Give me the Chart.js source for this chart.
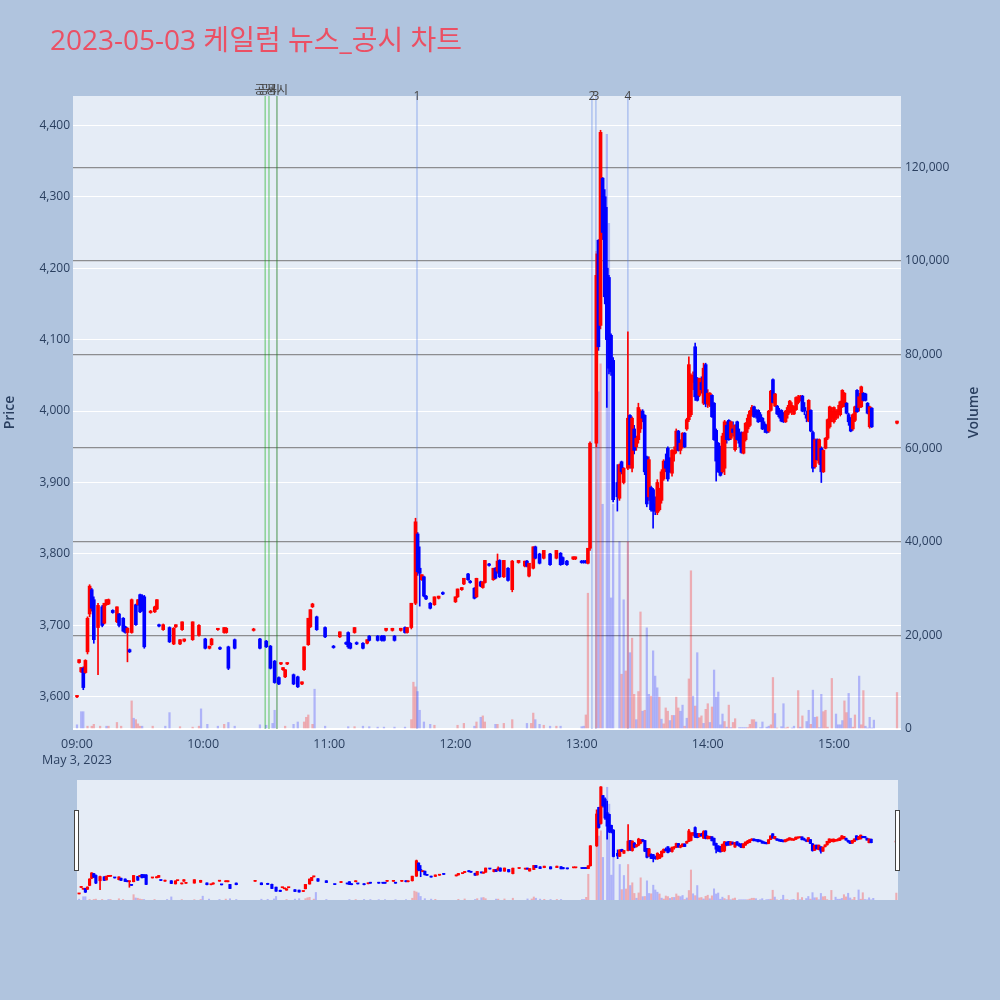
<!DOCTYPE html>
<html>
<head>
<meta charset="utf-8">
<script src="https://cdn.jsdelivr.net/npm/chart.js@4.4.0/dist/chart.umd.min.js"></script>
<style>
html, body { margin: 0; padding: 0; background: #b0c4de; }
#wrap { position: relative; width: 1000px; height: 1000px; }
#main { position: absolute; left: 0; top: 0; }
#slider { position: absolute; left: 77px; top: 780px; }
.handle { position: absolute; top: 810px; width: 3px; height: 59px; background: #fff; border: 1px solid #444; }
</style>
</head>
<body>
<div id="wrap">
  <canvas id="main" width="1000" height="1000"></canvas>
  <canvas id="slider" width="821" height="120"></canvas>
  <div class="handle" style="left:74px"></div>
  <div class="handle" style="left:895px"></div>
</div>
<script>
// minutes after 09:00
const candleMin = [
  0,1,2,3,4,5,6,7,8,10,
  12,13,14,15,17,19,20,22,23,24,
  25,26,28,29,30,31,32,35,37,38,
  39,41,44,46,47,49,50,51,55,58,
  61,63,64,67,68,70,71,72,75,84,
  87,90,92,94,96,97,98,99,100,103,
  105,107,108,110,111,112,114,118,
  122,125,128,129,130,132,133,136,138,139,
  143,145,146,147,150,151,154,156,157,159,
  161,162,163,164,165,166,168,170,172,174,
  180,
  181,183,184,186,187,189,190,192,193,194,
  196,198,199,200,201,203,205,207,210,213,
  214,215,217,218,220,222,225,228,230,231,
  233,236,237,240,241,242,
  243,244,247,248,249,250,251,252,253,254,
  255,257,258,259,260,262,263,264,265,266,
  267,268,269,270,271,272,273,274,275,276,
  277,278,279,280,281,282,283,284,285,286,
  287,288,289,290,291,292,293,294,295,296,
  297,298,299,300,301,302,
  303,304,305,306,307,308,309,310,311,312,
  313,314,315,316,317,318,319,320,321,322,
  323,324,325,326,327,328,329,330,331,332,
  333,334,335,336,337,338,339,340,341,342,
  343,344,345,346,347,348,349,350,351,352,
  353,354,355,356,357,358,359,360,361,362,
  363,364,365,366,367,368,369,370,371,372,
  373,374,375,376,377,378,390
];
const candleOpen = [
  3600,3648,3635,3640,3634,3663,3716,3750,3736,3697,
  3726,3703,3729,3730,3721,3705,3716,3710,3698,3690,
  3666,3690,3729,3729,3743,3741,3740,3718,3719,3723,
  3701,3694,3697,3674,3698,3674,3694,3678,3680,3686,
  3681,3668,3673,3694,3669,3690,3690,3670,3680,3693,
  3681,3678,3671,3650,3627,3646,3638,3628,3646,3631,
  3628,3618,3638,3673,3698,3726,3712,3697,
  3671,3684,3676,3690,3675,3690,3676,3675,3675,3685,
  3685,3685,3685,3693,3693,3685,3693,3697,3690,3697,
  3731,3828,3780,3764,3768,3741,3731,3729,3738,3746,
  3733,
  3740,3750,3758,3772,3762,3752,3740,3761,3753,3760,
  3786,3764,3780,3776,3791,3768,3780,3750,3788,3783,
  3790,3769,3780,3810,3800,3794,3800,3794,3801,3795,
  3790,3793,3793,3790,3790,3790,
  3787,3808,3955,4239,4120,4326,4300,4200,4187,4106,
  4071,3900,3878,3929,3900,3920,3994,3920,3975,3950,
  3960,3975,4000,3994,3936,3880,3893,3890,3870,3858,
  3862,3875,3905,3930,3948,3934,3913,3940,3945,3972,
  3945,3950,3969,3975,3988,3995,4040,4090,4046,4022,
  4040,4011,4065,4010,4008,4022,
  4011,3973,3955,3950,3915,3920,3980,3987,3962,3975,
  3946,3985,3965,3970,3941,3960,3975,3980,3995,4006,
  4000,4001,3995,3990,3982,3980,3972,4001,4044,4007,
  4007,4000,4001,3997,3985,3995,3998,4000,3996,4002,
  4012,4015,4021,4005,3995,3986,4001,3970,3922,3960,
  3927,3948,3915,3948,3962,3978,3990,3985,3990,3995,
  3995,4006,4008,4011,3995,3990,3975,3987,4029,4005,
  4006,4025,4024,4011,3978,4004,3983
];
const candleHigh = [
  3602,3652,3641,3642,3652,3712,3757,3752,3740,3731,
  3728,3731,3736,3737,3722,3726,3717,3711,3699,3697,
  3667,3737,3730,3736,3744,3743,3742,3721,3727,3736,
  3702,3702,3698,3697,3701,3680,3705,3681,3705,3701,
  3682,3671,3682,3696,3670,3697,3697,3671,3681,3696,
  3682,3679,3672,3651,3628,3648,3641,3638,3648,3632,
  3629,3621,3670,3710,3722,3731,3713,3698,
  3672,3691,3677,3691,3676,3697,3677,3676,3680,3686,
  3686,3686,3686,3696,3696,3686,3696,3698,3697,3731,
  3850,3830,3810,3771,3769,3742,3732,3740,3741,3747,
  3740,
  3751,3753,3766,3773,3763,3753,3766,3762,3761,3791,
  3787,3780,3781,3800,3792,3791,3781,3791,3791,3790,
  3791,3787,3810,3811,3801,3805,3801,3805,3802,3796,
  3791,3796,3796,3791,3791,3791,
  3808,3957,4220,4240,4393,4327,4310,4285,4190,4108,
  4075,3925,3926,3930,3921,4111,3995,3992,3980,3965,
  4011,4002,4002,3995,3937,3936,3895,3892,3880,3904,
  3892,3918,3932,3940,3950,3935,3946,3950,3975,3973,
  3960,3970,3970,3990,4076,4052,4055,4095,4047,4046,
  4048,4067,4067,4030,4026,4023,
  4012,3975,3956,3951,3969,3987,3985,3988,3986,3985,
  3981,3986,3975,3971,3971,3984,3995,4001,4008,4007,
  4002,4002,3998,3991,3985,3981,4001,4029,4045,4025,
  4008,4004,4002,3998,4001,4008,4015,4012,4007,4020,
  4022,4022,4022,4012,4000,4016,4002,3972,3961,3961,
  3961,3950,3946,3963,3989,4007,4005,4006,4002,4008,
  4014,4030,4026,4012,3997,3991,3996,4007,4030,4025,
  4035,4026,4025,4012,4007,4005,3986
];
const candleLow = [
  3599,3647,3634,3610,3633,3660,3712,3720,3675,3631,
  3698,3702,3728,3729,3717,3704,3698,3691,3689,3649,
  3662,3689,3700,3728,3718,3720,3668,3717,3718,3722,
  3698,3693,3676,3673,3697,3673,3693,3677,3679,3685,
  3667,3667,3672,3693,3666,3689,3689,3638,3667,3692,
  3667,3669,3639,3619,3617,3645,3637,3627,3645,3617,
  3613,3617,3637,3672,3697,3725,3693,3683,
  3668,3683,3673,3668,3667,3689,3673,3667,3674,3678,
  3678,3678,3678,3692,3692,3678,3692,3689,3689,3695,
  3729,3770,3727,3763,3740,3736,3723,3728,3737,3743,
  3732,
  3739,3749,3757,3763,3759,3737,3739,3754,3752,3759,
  3783,3763,3765,3773,3767,3767,3762,3747,3787,3782,
  3782,3768,3779,3793,3786,3793,3784,3793,3784,3785,
  3784,3792,3792,3787,3787,3787,
  3786,3805,3950,4085,4115,4240,4150,4005,4052,4050,
  3873,3860,3875,3912,3898,3918,3920,3915,3940,3945,
  3955,3970,3985,3911,3866,3875,3860,3836,3855,3855,
  3860,3871,3903,3915,3902,3914,3909,3930,3941,3944,
  3940,3948,3949,3973,3985,3992,4030,4015,4014,4020,
  4025,4009,4006,4005,4006,3991,
  3959,3902,3914,3909,3913,3911,3955,3959,3960,3965,
  3944,3959,3950,3941,3940,3958,3970,3978,3993,3991,
  3990,3984,3985,3974,3970,3969,3970,4000,4011,4006,
  3995,3990,3985,3984,3984,3990,3997,3995,3995,4001,
  4010,4014,3999,3995,3985,3985,3971,3915,3920,3931,
  3925,3900,3914,3947,3960,3976,3985,3983,3988,3990,
  3993,4005,4006,3996,3980,3971,3973,3985,3998,4000,
  4005,4014,4014,3996,3976,3977,3982
];
const candleClose = [
  3602,3652,3641,3613,3651,3710,3755,3724,3680,3728,
  3700,3731,3736,3736,3718,3726,3700,3692,3690,3696,
  3663,3736,3701,3736,3719,3722,3670,3720,3726,3736,
  3699,3701,3677,3696,3701,3680,3705,3681,3705,3700,
  3668,3671,3681,3696,3667,3697,3696,3640,3668,3695,
  3668,3670,3640,3620,3618,3648,3641,3638,3648,3618,
  3614,3621,3670,3710,3722,3730,3694,3684,
  3669,3691,3674,3670,3668,3697,3674,3668,3680,3679,
  3679,3679,3679,3696,3696,3679,3696,3690,3697,3731,
  3845,3775,3773,3771,3741,3737,3724,3740,3741,3744,
  3740,
  3751,3753,3766,3764,3760,3738,3766,3755,3761,3791,
  3784,3780,3766,3790,3768,3791,3763,3790,3791,3790,
  3783,3787,3810,3794,3787,3805,3785,3805,3785,3786,
  3785,3796,3796,3788,3788,3788,
  3808,3955,4190,4090,4390,4250,4160,4100,4060,4055,
  3876,3880,3925,3915,3920,3990,3925,3990,3945,3962,
  4005,4000,3990,3915,3870,3932,3862,3860,3860,3900,
  3890,3915,3930,3920,3905,3915,3945,3945,3972,3945,
  3955,3969,3950,3988,4065,4050,4050,4020,4015,4046,
  4030,4060,4010,4025,4025,3992,
  3960,3930,3915,3910,3965,3985,3960,3960,3985,3970,
  3980,3960,3955,3942,3970,3983,3990,4000,4005,3992,
  3995,3985,3990,3975,3975,3970,4000,4028,4012,4024,
  3996,3992,3986,3985,4000,4005,4014,4008,4006,4019,
  4020,4021,4000,4000,3990,4015,3972,3920,3960,3932,
  3960,3915,3945,3962,3988,4006,4000,4005,4000,4002,
  4013,4029,4025,3997,3985,3972,3995,4006,3999,4020,
  4034,4015,4015,3997,4006,3978,3986
];

// volume, thousands of shares; volUp 1 = rising minute
const volMin = [
  0,2,3,5,7,8,11,14,15,19,
  21,26,27,28,29,30,31,36,42,44,
  49,55,58,59,62,67,70,72,75,87,
  90,93,94,99,103,105,108,109,110,112,
  113,118,129,132,136,139,143,146,151,156,
  159,160,161,162,163,165,168,170,181,184,
  189,190,192,193,194,199,200,203,207,214,
  216,217,218,220,222,225,228,230,240,241,
  242,243,247,248,249,250,252,253,254,255,
  258,259,260,261,262,263,264,265,266,267,
  268,269,270,271,272,273,274,275,276,277,
  278,279,280,281,282,283,284,285,286,287,
  288,289,290,291,292,293,294,295,296,297,
  298,299,300,301,302,303,304,305,306,307,
  308,309,310,311,312,313,315,316,317,318,
  319,320,321,322,323,325,326,328,329,330,
  331,332,333,335,336,337,338,340,341,343,
  344,345,347,348,349,350,351,352,353,354,
  355,356,357,359,361,362,363,364,365,366,
  367,368,369,370,372,373,374,375,376,377,
  378,379,390
];
const volK = [
  0.9,3.7,3.7,0.6,0.6,1.0,0.6,0.6,0.6,1.4,
  0.6,6.0,2.3,2.0,1.1,0.6,0.6,0.6,0.6,3.5,
  0.5,0.4,0.6,4.3,1.0,0.6,1.0,1.4,0.6,0.9,
  0.8,1.2,4.0,0.6,1.0,1.5,1.5,2.5,3.0,1.0,
  8.5,0.6,0.5,0.5,0.6,0.5,0.4,0.4,0.4,0.4,
  2.0,10.0,9.0,8.0,4.0,1.5,1.0,0.8,0.8,1.2,
  0.6,1.5,2.5,2.8,1.5,1.0,1.0,1.2,2.0,1.2,
  1.2,3.4,2.0,1.0,0.8,0.6,0.6,0.6,0.5,0.6,
  3.0,29,102,72,78,48,127,108,28,48,
  40,11.7,27.6,12.4,40,16.3,19.4,7.4,2.0,8.0,
  25,3.8,4.0,21.6,7.4,7.0,16.7,11.3,8.8,6.8,
  2.1,1.1,4.5,3.8,1.8,2.9,2.9,6.8,4.5,3.8,
  5.1,0.6,2.3,10.7,33.8,7.0,4.9,16.3,2.4,2.8,
  1.2,4.2,5.4,1.4,4.7,12.6,6.8,7.9,0.9,3.2,
  1.6,0.4,5.1,0.3,1.4,2.2,0.3,0.3,0.3,0.3,
  0.3,1.0,2.0,2.0,1.5,0.3,1.5,0.4,0.6,0.9,
  11,3.3,0.2,0.5,5.4,0.2,0.4,0.2,0.6,8.2,
  0.4,2.8,1.6,4.0,1.0,8.3,2.5,2.6,0.3,7.4,
  3.7,4.0,0.4,10.8,3.2,0.9,0.9,1.8,6.0,3.5,
  7.6,2.3,0.4,3.0,11.3,0.9,8.2,0.6,0.2,2.5,
  0.2,1.9,7.8
];
const volUp = [
  0,0,0,1,1,1,1,0,1,1,
  1,1,0,1,1,1,0,1,0,0,
  1,1,1,0,0,0,1,0,0,0,
  0,0,0,1,0,0,1,1,1,1,
  0,0,0,1,0,0,0,0,0,0,
  1,1,1,0,0,0,0,1,1,1,
  0,1,0,1,1,0,1,1,1,0,
  1,1,0,0,1,0,1,0,0,0,
  1,1,1,0,1,0,0,0,0,0,
  0,1,0,1,1,0,1,1,0,1,
  1,0,1,0,0,1,0,0,0,1,
  0,1,1,1,0,1,0,1,1,0,
  0,1,0,1,1,0,1,0,1,1,
  0,1,1,0,1,0,0,0,0,0,
  1,0,1,0,1,1,0,0,0,0,
  1,1,1,1,0,0,0,0,0,1,
  1,0,1,0,0,1,1,0,0,1,
  0,1,0,0,1,0,0,1,0,0,
  1,1,1,1,0,0,0,0,1,1,
  0,0,1,1,0,1,1,0,0,0,
  0,0,1
];

// event markers
const noticeMin = [89.5, 91.3, 95.1];
const noticeText = ['공시', '공시', '공시'];
const newsMin = [161.7, 244.9, 246.8, 262];
const newsText = ['1', '2', '3', '4'];

const tickMinutes = [0, 60, 120, 180, 240, 300, 360];
const tickLabels = ['09:00', '10:00', '11:00', '12:00', '13:00', '14:00', '15:00'];
const dateLabel = 'May 3, 2023';
const priceTicks = [3600, 3700, 3800, 3900, 4000, 4100, 4200, 4300, 4400];
const volTicks = [0, 20000, 40000, 60000, 80000, 100000, 120000];
const chartTitle = '2023-05-03 케일럼 뉴스_공시 차트';

[candleOpen, candleHigh, candleLow, candleClose].forEach(function(a) {
    if (a.length != candleMin.length) throw new Error('candle length ' + a.length + ' vs ' + candleMin.length);
});
if (volK.length != volMin.length || volUp.length != volMin.length) throw new Error('vol length ' + volK.length + ' ' + volUp.length + ' ' + volMin.length);

const FONT = "'Open Sans', 'Noto Sans CJK KR', sans-serif";
const TXT = '#2a3f5f';
Chart.defaults.font.family = FONT;

let candleColor = candleMin.map(function(m, i) {
    return candleClose[i] >= candleOpen[i] ? '#ff0000' : '#0000ff';
});
let volColor = volUp.map(function(u) {
    return u ? 'rgba(255,0,0,0.27)' : 'rgba(0,0,255,0.24)';
});

function buildDatasets(bodyW, wickW, volW) {
    return [
        {
            data: volMin.map(function(m, i) { return {x: m, y: volK[i] * 1000}; }),
            yAxisID: 'y1',
            backgroundColor: volColor,
            barThickness: volW,
            grouped: false,
            order: 3
        },
        {
            data: candleMin.map(function(m, i) { return {x: m, y: [candleLow[i], candleHigh[i]]}; }),
            yAxisID: 'y',
            backgroundColor: candleColor,
            barThickness: wickW,
            grouped: false,
            order: 2
        },
        {
            data: candleMin.map(function(m, i) { return {x: m, y: [candleOpen[i], candleClose[i]]}; }),
            yAxisID: 'y',
            backgroundColor: candleColor,
            barThickness: bodyW,
            minBarLength: 1,
            grouped: false,
            order: 1
        }
    ];
}

const plotBg = {
    id: 'plotBg',
    beforeDraw(chart) {
        const a = chart.chartArea, ctx = chart.ctx;
        ctx.save();
        ctx.fillStyle = '#e5ecf6';
        ctx.fillRect(a.left, a.top, a.right - a.left, a.bottom - a.top);
        ctx.restore();
    }
};

const markers = {
    id: 'markers',
    beforeDatasetsDraw(chart) {
        const a = chart.chartArea, ctx = chart.ctx, x = chart.scales.x;
        ctx.save();
        ctx.lineWidth = 1.5;
        noticeMin.forEach(function(m, i) {
            let px = x.getPixelForValue(m);
            ctx.strokeStyle = i == 2 ? 'rgba(40,130,40,0.55)' : 'rgba(0,170,0,0.4)';
            ctx.beginPath(); ctx.moveTo(px, a.top); ctx.lineTo(px, a.bottom); ctx.stroke();
        });
        newsMin.forEach(function(m) {
            let px = x.getPixelForValue(m);
            ctx.strokeStyle = 'rgba(90,130,230,0.4)';
            ctx.beginPath(); ctx.moveTo(px, a.top); ctx.lineTo(px, a.bottom); ctx.stroke();
        });
        ctx.fillStyle = '#444';
        ctx.font = '12px ' + FONT;
        ctx.textAlign = 'center';
        ctx.textBaseline = 'bottom';
        noticeMin.forEach(function(m, i) {
            ctx.fillText(noticeText[i], x.getPixelForValue(m), a.top + 1);
        });
        ctx.textBaseline = 'middle';
        newsMin.forEach(function(m, i) {
            ctx.fillText(newsText[i], x.getPixelForValue(m), a.top + 1);
        });
        ctx.restore();
    }
};

const texts = {
    id: 'texts',
    afterDraw(chart) {
        const a = chart.chartArea, ctx = chart.ctx;
        const midY = (a.top + a.bottom) / 2;
        ctx.save();
        ctx.fillStyle = '#eb5064';
        ctx.font = '28px ' + FONT;
        ctx.textAlign = 'left';
        ctx.textBaseline = 'alphabetic';
        ctx.fillText(chartTitle, 50, 50);

        ctx.fillStyle = TXT;
        ctx.font = '600 14px ' + FONT;
        ctx.textAlign = 'center';
        ctx.textBaseline = 'middle';
        ctx.translate(10, midY);
        ctx.rotate(-Math.PI / 2);
        ctx.fillText('Price', 0, 0);
        ctx.restore();

        ctx.save();
        ctx.fillStyle = TXT;
        ctx.font = '600 14px ' + FONT;
        ctx.textAlign = 'center';
        ctx.textBaseline = 'middle';
        ctx.translate(974, midY);
        ctx.rotate(-Math.PI / 2);
        ctx.fillText('Volume', 0, 0);
        ctx.restore();
    }
};

var chart = new Chart(document.getElementById('main').getContext('2d'), {
    type: 'bar',
    data: { datasets: buildDatasets(3, 1, 1.6) },
    options: {
        responsive: false,
        animation: false,
        layout: { padding: { top: 96, bottom: 211, left: 0, right: 14 } },
        plugins: { legend: { display: false }, tooltip: { enabled: false } },
        scales: {
            x: {
                type: 'linear',
                min: -1.9,
                max: 391.9,
                offset: false,
                grid: { display: false, offset: false },
                border: { display: false },
                afterBuildTicks: function(s) { s.ticks = tickMinutes.map(function(v) { return {value: v}; }); },
                afterFit: function(s) { s.height = 60; },
                ticks: {
                    autoSkip: false,
                    maxRotation: 0,
                    padding: 0,
                    color: TXT,
                    font: { size: 12.5, lineHeight: 1.25 },
                    callback: function(v, i) { return i == 0 ? [tickLabels[0], dateLabel] : tickLabels[i]; }
                }
            },
            y: {
                position: 'left',
                min: 3555,
                max: 4441,
                grid: { color: '#ffffff', lineWidth: 1, drawTicks: false },
                border: { display: false },
                afterBuildTicks: function(s) { s.ticks = priceTicks.map(function(v) { return {value: v}; }); },
                afterFit: function(s) { s.width = 73; },
                ticks: {
                    padding: 3,
                    color: TXT,
                    font: { size: 12 },
                    callback: function(v) { return v.toLocaleString('en-US'); }
                }
            },
            y1: {
                position: 'right',
                min: 0,
                max: 135200,
                grid: {
                    color: function(c) { return c.tick && c.tick.value == 0 ? '#ffffff' : 'rgba(110,110,110,0.75)'; },
                    lineWidth: function(c) { return c.tick && c.tick.value == 0 ? 2 : 1.3; },
                    drawTicks: false
                },
                border: { display: false },
                afterBuildTicks: function(s) { s.ticks = volTicks.map(function(v) { return {value: v}; }); },
                afterFit: function(s) { s.width = 85; },
                ticks: {
                    padding: 4,
                    color: TXT,
                    font: { size: 12 },
                    callback: function(v) { return v.toLocaleString('en-US'); }
                }
            }
        }
    },
    plugins: [plotBg, markers, texts]
});

var slider = new Chart(document.getElementById('slider').getContext('2d'), {
    type: 'bar',
    data: { datasets: buildDatasets(2.5, 1, 1.4) },
    options: {
        responsive: false,
        animation: false,
        layout: { padding: 0 },
        plugins: { legend: { display: false }, tooltip: { enabled: false } },
        scales: {
            x: { type: 'linear', display: false, min: -1, max: 390.8, offset: false, grid: { offset: false } },
            y: { display: false, min: 3555, max: 4441 },
            y1: { display: false, position: 'right', min: 0, max: 135200 }
        }
    },
    plugins: [plotBg]
});
</script>
</body>
</html>
